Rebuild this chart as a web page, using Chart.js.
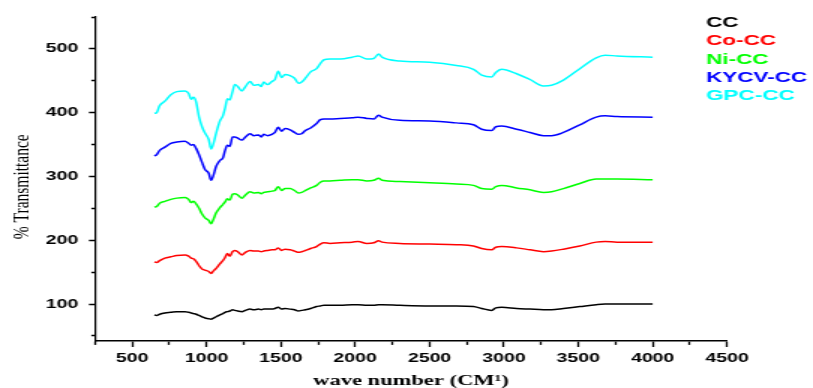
<!DOCTYPE html>
<html><head><meta charset="utf-8">
<script src="https://cdn.jsdelivr.net/npm/chart.js@4.4.1/dist/chart.umd.min.js"></script>
<style>
html,body{margin:0;padding:0;background:#fff;overflow:hidden;}
#wrap{position:absolute;left:0;top:0;width:542px;height:388px;transform:scaleX(1.5);transform-origin:0 0;}
</style></head><body>
<div id="wrap"><canvas id="c"></canvas></div>
<script>
// wave number (cm-1)
const wave = [650,665,685,720,760,800,855,880,897,912,930,950,970,990,1015,1031,1047,1065,1090,1110,1125,1140,1157,1175,1190,1210,1237,1262,1293,1318,1350,1368,1385,1410,1440,1460,1482,1505,1528,1562,1592,1618,1640,1665,1700,1740,1765,1790,1830,1900,1980,2020,2078,2125,2157,2180,2300,2500,2680,2795,2850,2918,2945,2985,3085,3175,3265,3320,3400,3510,3620,3680,3760,4000];

const seriesNames = ['CC','Co-CC','Ni-CC','KYCV-CC','GPC-CC'];

const ccT = [83,82,84,86,87,88,88,87,86,85,84,82,80,78,77,76,78,80,83,85,87,88,89,91,90,89,88,90,92,91,92,91,92,92,92,93,95,92,93,92,91,89,90,91,93,96,97,98,98,98,99,99,98,98,99,99,98,97,97,96,93,90,94,95,93,92,91,91,93,96,99,100,100,100];

const coT = [166,165,168,172,174,176,177,175,172,171,167,160,155,153,151,148,152,156,163,168,173,179,175,182,184,182,177,181,184,183,183,182,183,184,185,185,188,184,186,185,183,181,182,184,187,190,194,196,195,196,197,198,195,196,199,197,195,194,193,191,187,185,189,190,188,185,182,183,186,191,197,198,197,197];

const niT = [252,253,258,261,264,266,267,264,259,261,257,250,241,235,231,226,233,243,251,256,260,265,263,272,273,271,266,271,276,274,275,273,275,276,277,278,284,278,281,281,278,274,275,278,282,286,291,293,293,294,295,295,293,294,297,294,292,290,288,286,281,280,284,286,282,279,275,276,281,289,296,296,296,295];

const kycvT = [332,334,341,346,352,354,355,352,349,350,344,334,322,311,305,294,302,316,325,329,341,349,347,362,362,360,357,362,367,364,365,362,366,364,366,369,377,371,375,373,369,366,367,372,376,383,389,390,390,391,392,393,391,390,396,393,388,387,384,381,374,372,378,379,374,369,364,364,369,381,393,395,394,393];

const gpcT = [399,400,411,418,428,433,434,430,421,424,417,393,378,368,358,343,352,368,387,395,407,422,420,433,444,441,434,441,449,443,444,441,448,444,449,452,465,455,460,458,454,446,448,454,464,469,477,483,484,484,487,489,484,485,492,487,481,479,474,468,459,456,463,468,461,452,442,443,451,469,486,490,489,487];

const seriesColors = ['#000000','#ff0000','#00ff00','#0000ff','#00ffff'];

const xLabelTicks = [500,1000,1500,2000,2500,3000,3500,4000,4500];
const yLabelTicks = [100,200,300,400,500];

const allSeries = [ccT, coT, niT, kycvT, gpcT];

const datasets = allSeries.map((vals, k) => ({
  label: seriesNames[k],
  data: wave.map((w, i) => ({x: w, y: vals[i]})),
  borderColor: seriesColors[k],
  backgroundColor: seriesColors[k],
  borderWidth: 1.5,
  pointRadius: 0,
  fill: false,
  cubicInterpolationMode: 'monotone'
}));

const textLegend = {
  id: 'textLegend',
  afterDraw(chart) {
    const ctx = chart.ctx;
    ctx.save();
    ctx.font = 'bold 15px "Liberation Sans", Arial, sans-serif';
    ctx.textAlign = 'left';
    ctx.textBaseline = 'alphabetic';
    chart.data.datasets.forEach((ds, i) => {
      ctx.fillStyle = ds.borderColor;
      ctx.fillText(ds.label, 470.7, 27 + i * 18.3);
    });
    ctx.restore();
  }
};

const tickFont = {family: '"Liberation Sans", Arial, sans-serif', size: 13, weight: 'bold'};

new Chart(document.getElementById('c'), {
  type: 'line',
  data: {datasets},
  plugins: [textLegend],
  options: {
    responsive: true,
    maintainAspectRatio: false,
    animation: false,
    devicePixelRatio: 1,
    layout: {padding: {top: 17, right: 57.3, left: 0, bottom: 0}},
    plugins: {legend: {display: false}, tooltip: {enabled: false}},
    scales: {
      x: {
        type: 'linear',
        min: 250, max: 4500,
        afterFit(s) { s.height = 47; },
        ticks: {
          stepSize: 250, includeBounds: false, autoSkip: false, maxRotation: 0,
          color: '#000', font: tickFont, padding: 4,
          callback: v => xLabelTicks.includes(v) ? String(v) : ''
        },
        grid: {
          display: true, drawOnChartArea: false, drawTicks: true, tickLength: 6,
          tickColor: '#000', tickWidth: 1.3,
          tickBorderDash: ctx => (ctx.tick && xLabelTicks.includes(ctx.tick.value)) ? [] : [3.3, 100]
        },
        border: {display: true, color: '#000', width: 1.6},
        title: {
          display: true, text: 'wave number (CM\u00B9)', color: '#000',
          font: {family: '"Liberation Serif", "Times New Roman", serif', size: 15, weight: 'bold'},
          padding: {top: 0, bottom: -2}
        }
      },
      y: {
        type: 'linear',
        min: 42, max: 550,
        afterFit(s) { s.width = 63.3; },
        ticks: {
          stepSize: 50, includeBounds: false, autoSkip: false,
          color: '#000', font: tickFont, padding: 7,
          callback: v => yLabelTicks.includes(v) ? String(v) : ''
        },
        grid: {
          display: true, drawOnChartArea: false, drawTicks: true, tickLength: 4,
          tickColor: '#000', tickWidth: 1.5,
          tickBorderDash: ctx => (ctx.tick && yLabelTicks.includes(ctx.tick.value)) ? [] : [0, 1.6, 5, 100]
        },
        border: {display: true, color: '#000', width: 1.2},
        title: {
          display: true, text: '% Transmittance    ', color: '#000',
          font: {family: '"Liberation Serif", "Times New Roman", serif', size: 15.5, weight: 'normal'},
          padding: {top: 6, bottom: 0}
        }
      }
    }
  }
});
</script>
</body></html>
